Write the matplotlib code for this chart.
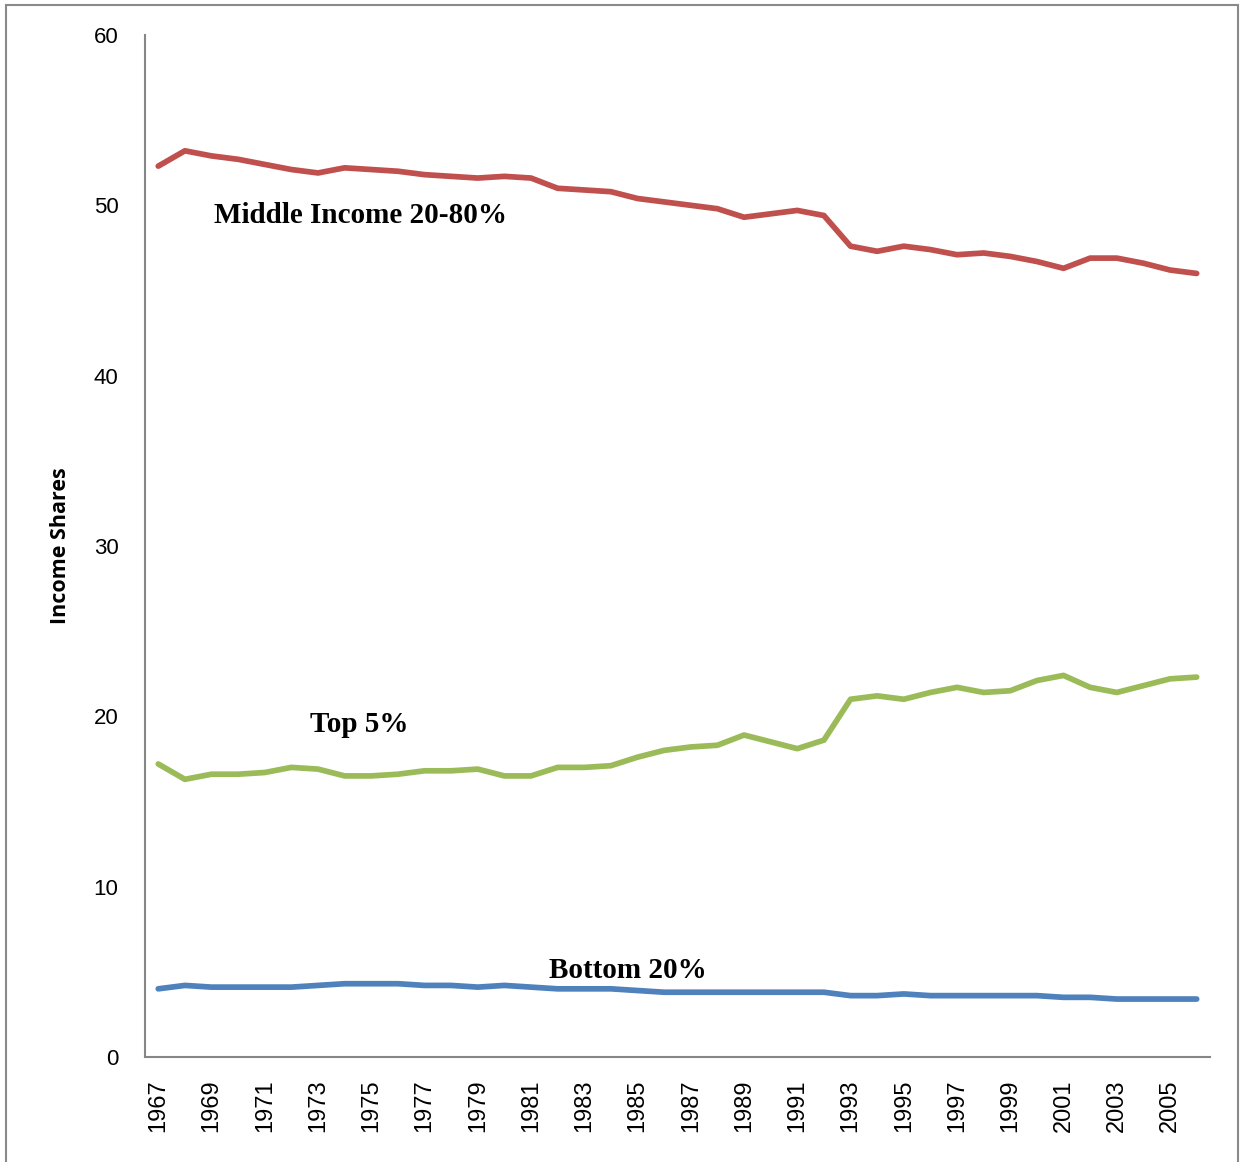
import matplotlib.pyplot as plt
from matplotlib.patches import Rectangle

# household income shares by group, 1967-2006
years = list(range(1967, 2007))
middle_60 = [52.3, 53.2, 52.9, 52.7, 52.4, 52.1, 51.9, 52.2, 52.1, 52.0,
             51.8, 51.7, 51.6, 51.7, 51.6, 51.0, 50.9, 50.8, 50.4, 50.2,
             50.0, 49.8, 49.3, 49.5, 49.7, 49.4, 47.6, 47.3, 47.6, 47.4,
             47.1, 47.2, 47.0, 46.7, 46.3, 46.9, 46.9, 46.6, 46.2, 46.0]
top_5 = [17.2, 16.3, 16.6, 16.6, 16.7, 17.0, 16.9, 16.5, 16.5, 16.6,
         16.8, 16.8, 16.9, 16.5, 16.5, 17.0, 17.0, 17.1, 17.6, 18.0,
         18.2, 18.3, 18.9, 18.5, 18.1, 18.6, 21.0, 21.2, 21.0, 21.4,
         21.7, 21.4, 21.5, 22.1, 22.4, 21.7, 21.4, 21.8, 22.2, 22.3]
bottom_20 = [4.0, 4.2, 4.1, 4.1, 4.1, 4.1, 4.2, 4.3, 4.3, 4.3,
             4.2, 4.2, 4.1, 4.2, 4.1, 4.0, 4.0, 4.0, 3.9, 3.8,
             3.8, 3.8, 3.8, 3.8, 3.8, 3.8, 3.6, 3.6, 3.7, 3.6,
             3.6, 3.6, 3.6, 3.6, 3.5, 3.5, 3.4, 3.4, 3.4, 3.4]

fig = plt.figure(figsize=(12.41, 11.62), dpi=100)
ax = fig.add_axes([0.1168, 0.0904, 0.975 - 0.1168, 0.9699 - 0.0904])

x = list(range(len(years)))
lw = 4.1
ax.plot(x, middle_60, color="#C0504D", lw=lw, solid_capstyle="round", solid_joinstyle="round")
ax.plot(x, top_5, color="#9BBB59", lw=lw, solid_capstyle="round", solid_joinstyle="round")
ax.plot(x, bottom_20, color="#4F81BD", lw=lw, solid_capstyle="round", solid_joinstyle="round")

serif = dict(family="Liberation Serif", weight="bold", fontsize=21, va="center", ha="left")
ax.text(2.1, 49.4, "Middle Income 20-80%", **serif)
ax.text(5.7, 19.5, "Top 5%", **serif)
ax.text(14.66, 5.1, "Bottom 20%", **serif)

ax.set_xlim(-0.5, len(years) - 0.5)
ax.set_ylim(0, 60)
ax.set_yticks(range(0, 61, 10))
ax.set_xticks(x[::2])
ax.set_xticklabels([str(y) for y in years[::2]], rotation=90)
ax.tick_params(axis="y", length=0, pad=19, labelsize=16)
ax.tick_params(axis="x", length=0, pad=16, labelsize=17)
for lab in ax.get_xticklabels() + ax.get_yticklabels():
    lab.set_family("Liberation Sans")

for side in ("top", "right"):
    ax.spines[side].set_visible(False)
for side in ("left", "bottom"):
    ax.spines[side].set_color("#868686")
    ax.spines[side].set_linewidth(1.5)

ax.set_ylabel("Income Shares", fontsize=15.5, fontweight="bold", family="Open Sans", labelpad=16)

# page frame around the chart
fig.patches.append(Rectangle((6 / 1241, -0.05), (1238 - 6) / 1241, 1.05 - 5 / 1162,
                             transform=fig.transFigure, fill=False,
                             edgecolor="#8a8a8a", lw=1.5))

fig.savefig("out.png", dpi=100)
